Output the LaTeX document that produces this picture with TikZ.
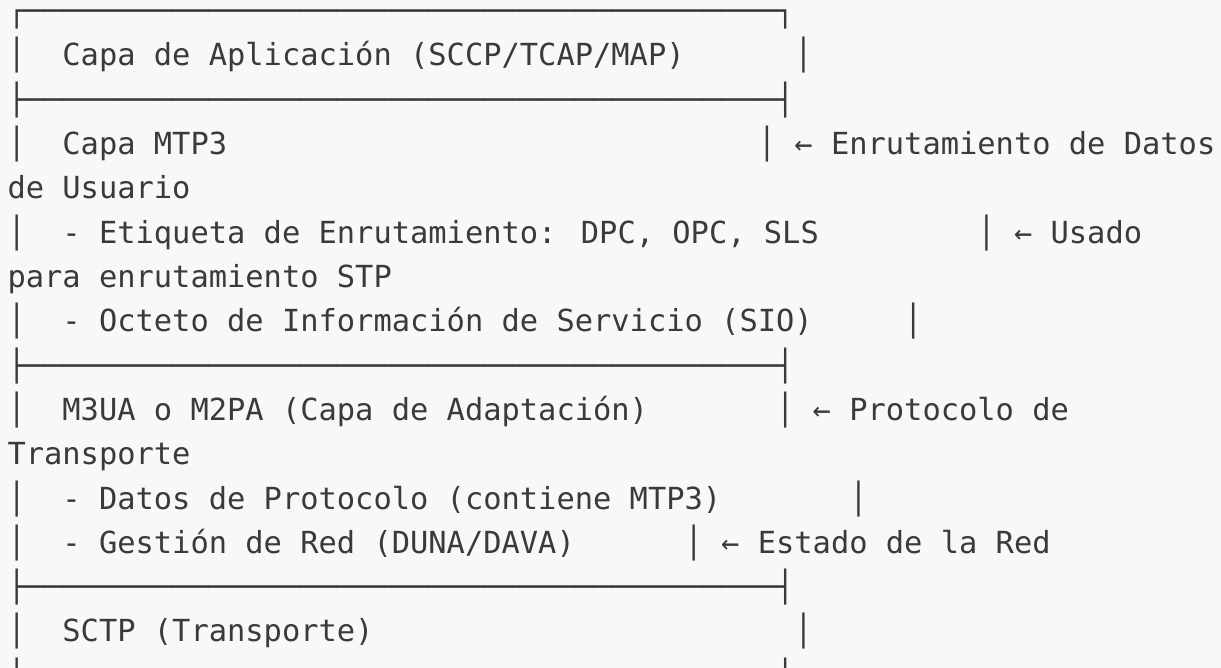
\documentclass[tikz,border=0pt]{standalone}
\usepackage{fontspec}
\newfontfamily\monofnt{DejaVu Sans Mono}
\definecolor{bg}{HTML}{F7F8FA}
\definecolor{ink}{HTML}{3A3B36}
\ExplSyntaxOn
\cs_new:Npn \hrun #1 { \prg_replicate:nn {#1} {─} }
\ExplSyntaxOff
\newcommand\seg[4]{\node[txt] (#1) at ({7.5+18.3*#2},{21.7+44.3*#3}) {#4};}
\begin{document}
\begin{tikzpicture}[x=1pt,y=-1pt,
  txt/.style={anchor=base west, inner sep=0pt, outer sep=0pt,
    font=\monofnt\fontsize{30.4}{36}\selectfont, text=ink}]
\fill[bg] (0,0) rectangle (1221,668);
\useasboundingbox (0,0) rectangle (1221,668);
\clip (0,0) rectangle (1221,668);
% line 0
\seg{top}{0}{0}{┌\hrun{41}┐}
% line 1
\seg{l1a}{0}{1}{│}
\seg{app}{3}{1}{Capa de Aplicación (SCCP/TCAP/MAP)}
\seg{l1c}{43}{1}{│}
% line 2
\seg{div1}{0}{2}{├\hrun{41}┤}
% line 3
\seg{l3a}{0}{3}{│}
\seg{mtp}{3}{3}{Capa MTP3}
\seg{l3c}{41}{3}{│}
\seg{l3d}{43}{3}{←}
\seg{l3e}{45}{3}{Enrutamiento de Datos}
\seg{l4}{0}{4}{de Usuario}
% line 5
\seg{l5a}{0}{5}{│}
\seg{etq}{3}{5}{- Etiqueta de Enrutamiento: DPC, OPC, SLS}
\seg{l5c}{53}{5}{│}
\seg{l5d}{55}{5}{←}
\seg{l5e}{57}{5}{Usado}
\seg{l6}{0}{6}{para enrutamiento STP}
% line 7
\seg{l7a}{0}{7}{│}
\seg{sio}{3}{7}{- Octeto de Información de Servicio (SIO)}
\seg{l7c}{49}{7}{│}
% line 8
\seg{div2}{0}{8}{├\hrun{41}┤}
% line 9
\seg{l9a}{0}{9}{│}
\seg{m3ua}{3}{9}{M3UA o M2PA (Capa de Adaptación)}
\seg{l9c}{42}{9}{│}
\seg{l9d}{44}{9}{←}
\seg{l9e}{46}{9}{Protocolo de}
\seg{l10}{0}{10}{Transporte}
% line 11
\seg{l11a}{0}{11}{│}
\seg{dat}{3}{11}{- Datos de Protocolo (contiene MTP3)}
\seg{l11c}{46}{11}{│}
% line 12
\seg{l12a}{0}{12}{│}
\seg{ges}{3}{12}{- Gestión de Red (DUNA/DAVA)}
\seg{l12c}{37}{12}{│}
\seg{l12d}{39}{12}{←}
\seg{l12e}{41}{12}{Estado de la Red}
% line 13
\seg{div3}{0}{13}{├\hrun{41}┤}
% line 14
\seg{l14a}{0}{14}{│}
\seg{sctp}{3}{14}{SCTP (Transporte)}
\seg{l14c}{43}{14}{│}
% line 15
\seg{l15a}{0}{15}{│}
\seg{l15c}{42}{15}{│}
\end{tikzpicture}
\end{document}
